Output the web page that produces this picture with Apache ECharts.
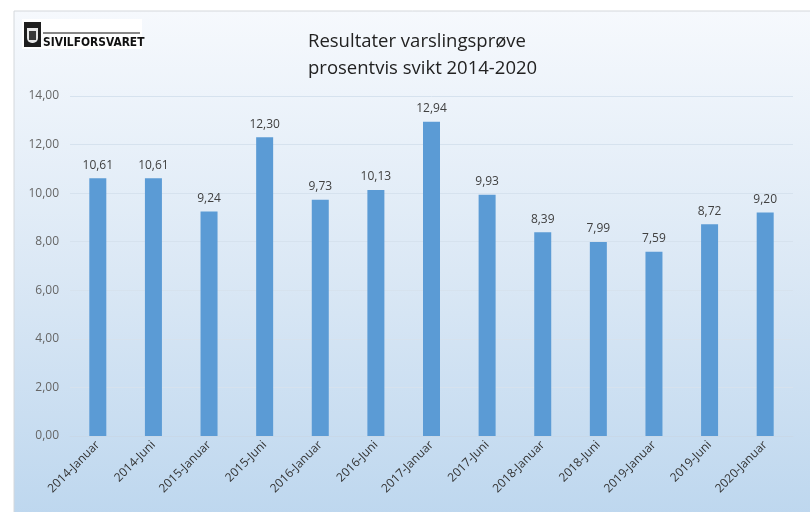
<!DOCTYPE html>
<html>
<head>
<meta charset="utf-8">
<script src="https://cdn.jsdelivr.net/npm/echarts@6/dist/echarts.min.js"></script>
<style>
  html, body { margin: 0; padding: 0; background: #fff; }
  #chart { width: 810px; height: 512px; }
</style>
</head>
<body>
<div id="chart"></div>
<script>
// periods on the x axis
const categories = [
  "2014-Januar", "2014-Juni", "2015-Januar", "2015-Juni", "2016-Januar",
  "2016-Juni", "2017-Januar", "2017-Juni", "2018-Januar", "2018-Juni",
  "2019-Januar", "2019-Juni", "2020-Januar"
];
// prosentvis svikt
const failure = [10.61, 10.61, 9.24, 12.30, 9.73, 10.13, 12.94, 9.93, 8.39, 7.99, 7.59, 8.72, 9.20];
const titleLines = ["Resultater varslingsprøve", "prosentvis svikt 2014-2020"];

const fmt = v => v.toFixed(2).replace(".", ",");

const chart = echarts.init(document.getElementById("chart"));
const option = {
  animation: false,
  textStyle: { fontFamily: "Open Sans" },
  graphic: [
    {
      type: "rect",
      z: -10,
      shape: { x: 14, y: 11, width: 820, height: 520 },
      style: {
        fill: new echarts.graphic.LinearGradient(0, 0, 0, 1, [
          { offset: 0, color: "#f6f9fd" },
          { offset: 0.5, color: "#dbe8f5" },
          { offset: 1, color: "#bcd6ee" }
        ]),
        stroke: "#d4d8dc",
        lineWidth: 1
      }
    },
    {
      type: "group",
      left: 22,
      top: 19,
      children: [
        { type: "rect", shape: { x: 0, y: 0, width: 120, height: 30 }, style: { fill: "#ffffff" } },
        // crest
        { type: "rect", shape: { x: 2, y: 3, width: 17, height: 25 }, style: { fill: "#1e1e1e" } },
        { type: "rect", shape: { x: 5, y: 9, width: 11, height: 15, r: [0, 0, 5, 5] }, style: { fill: "#e8e8e8" } },
        { type: "rect", shape: { x: 7, y: 12, width: 7, height: 9 }, style: { fill: "#3a3a3a" } },
        { type: "line", shape: { x1: 21, y1: 14, x2: 118, y2: 14 }, style: { stroke: "#111", lineWidth: 1 } },
        {
          type: "text",
          scaleX: 0.82,
          x: 21,
          style: {
            x: 0, y: 17, text: "SIVILFORSVARET",
            font: "bold 13px 'DejaVu Sans', sans-serif",
            fill: "#111"
          }
        }
      ]
    }
  ],
  title: {
    text: titleLines.join("\n"),
    left: 303,
    top: 23,
    textAlign: "left",
    textStyle: { fontSize: 18.5, fontWeight: "normal", color: "#222", lineHeight: 27, fontFamily: "Open Sans", align: "center" }
  },
  grid: { left: 70, right: 17, top: 96, bottom: 76 },
  xAxis: {
    type: "category",
    data: categories,
    axisLine: { show: true, lineStyle: { color: "#c8d8e8" } },
    axisTick: { show: false },
    axisLabel: { rotate: 45, interval: 0, fontSize: 12, color: "#333", margin: 7 }
  },
  yAxis: {
    type: "value",
    min: 0,
    max: 14,
    interval: 2,
    axisLine: { show: false },
    axisTick: { show: false },
    axisLabel: { formatter: fmt, fontSize: 12, color: "#666", margin: 11 },
    splitLine: { lineStyle: { color: "#d6e2ee" } }
  },
  series: [
    {
      type: "bar",
      data: failure,
      barWidth: 17,
      itemStyle: { color: "#5b9bd5" },
      label: {
        show: true,
        position: "top",
        distance: 7,
        formatter: p => fmt(p.value),
        fontSize: 12,
        color: "#404040"
      }
    }
  ]
};
chart.setOption(option);
</script>
</body>
</html>
